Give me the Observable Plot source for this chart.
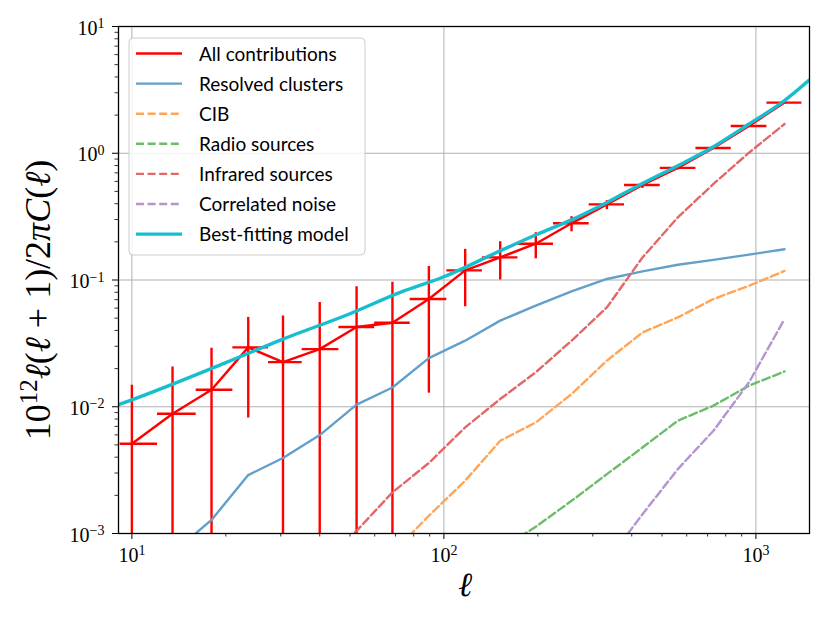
<!DOCTYPE html>
<html>
<head>
<meta charset="utf-8">
<script src="https://cdn.jsdelivr.net/npm/d3@7"></script>
<script src="https://cdn.jsdelivr.net/npm/@observablehq/plot@0.6"></script>
<style>
  html, body { margin: 0; padding: 0; background: #fff; }
  #chart { width: 830px; height: 623px; }
</style>
</head>
<body>
<div id="chart"></div>
<script>
// ---- data ----
const ell = [10, 13.5, 18, 23.6, 30.5, 40, 52.5, 68.4, 89.5, 117, 151.5, 197, 256.5, 333, 433, 562, 731, 950, 1235];
const binEdges = [9.17, 12.08, 16.07, 21.07, 27.4, 35.14, 46.08, 60.0, 77.98, 102.2, 132.9, 172.7, 224.5, 292.2, 379.2, 493.6, 642.3, 833.4, 1084.6, 1404];
const allContrib = [0.0051, 0.0088, 0.0136, 0.0294, 0.0225, 0.0285, 0.0426, 0.046, 0.0708, 0.119, 0.1507, 0.1934, 0.28, 0.395, 0.562, 0.766, 1.10, 1.64, 2.51];
const errUpper = [0.0148, 0.0206, 0.029, 0.0507, 0.052, 0.0665, 0.0886, 0.0958, 0.128, 0.1746, 0.2004, 0.236, 0.316, 0.423, 0.589, 0.79, 1.13, 1.68, 2.56];
// 1e-4 marks a lower bound that falls below the plotted range
const errLower = [1e-4, 1e-4, 1e-4, 0.00815, 1e-4, 1e-4, 1e-4, 1e-4, 0.0128, 0.0615, 0.100, 0.147, 0.24, 0.359, 0.528, 0.74, 1.07, 1.60, 2.46];

const resolvedClusters = [null, 0.0007, 0.00128, 0.00289, 0.00394, 0.00598, 0.01038, 0.01419, 0.0242, 0.0332, 0.0478, 0.0627, 0.0813, 0.1019, 0.117, 0.132, 0.144, 0.1585, 0.175];
const cib = [null, null, null, null, null, null, null, 0.0007, 0.00138, 0.00261, 0.00539, 0.00752, 0.0126, 0.0231, 0.0386, 0.0507, 0.0708, 0.090, 0.118];
const radioSources = [null, null, null, null, null, null, null, null, null, null, 0.00075, 0.00113, 0.00181, 0.00294, 0.00477, 0.00776, 0.0102, 0.01465, 0.019];
const infraredSources = [null, null, null, null, null, 0.00059, 0.00105, 0.00211, 0.0036, 0.00687, 0.0115, 0.0187, 0.0332, 0.0608, 0.1507, 0.312, 0.573, 1.01, 1.70];
const correlatedNoise = [null, null, null, null, null, null, null, null, null, null, null, null, null, 0.0006, 0.00142, 0.00322, 0.00646, 0.01556, 0.0492];

const modelEll = [9.06, 10, 20, 30.5, 50, 72.4, 100, 151.5, 200, 256.5, 333, 433, 562, 731, 950, 1235, 1485];
const modelVal = [0.0104, 0.01135, 0.0223, 0.0342, 0.0542, 0.0798, 0.106, 0.170, 0.2306, 0.298, 0.409, 0.578, 0.798, 1.127, 1.70, 2.60, 3.79];

const xMajor = [10, 100, 1000];
const yMajor = [0.001, 0.01, 0.1, 1, 10];

const legendLabels = ["All contributions", "Resolved clusters", "CIB", "Radio sources", "Infrared sources", "Correlated noise", "Best-fitting model"];

// ---- styles ----
const colors = {
  all: "#ff0000", clusters: "#62a0ca", cib: "#ffa556", radio: "#6bbc6b",
  ir: "#e26868", noise: "#b495d1", model: "#17becf"
};
const dash = "8,3.6";
const lw = 2.4;
const serif = "'Liberation Serif', 'DejaVu Serif', serif";

// ---- tables ----
const points = ell.map((l, i) => ({
  ell: l, lo: binEdges[i], hi: binEdges[i + 1],
  y: allContrib[i], yHi: errUpper[i], yLo: errLower[i]
}));
const series = (vals) => ell.map((l, i) => ({ell: l, v: vals[i]})).filter(d => d.v != null);
const model = modelEll.map((l, i) => ({ell: l, v: modelVal[i]}));

// minor ticks (2..9 in every decade)
const minorX = [], minorY = [];
for (let e = 0; e <= 3; e++) for (let m = 2; m <= 9; m++) {
  const v = m * 10 ** e; if (v > 9.06 && v < 1485) minorX.push(v);
}
for (let e = -3; e <= 0; e++) for (let m = 2; m <= 9; m++) minorY.push(m * 10 ** e);

const fmt = d => "10^" + Math.round(Math.log10(d));

const chart = Plot.plot({
  width: 830,
  height: 623,
  marginLeft: 118,
  marginRight: 21,
  marginTop: 26,
  marginBottom: 90,
  style: {background: "#fff", fontFamily: serif},
  x: {type: "log", domain: [9.06, 1485]},
  y: {type: "log", domain: [1e-3, 10]},
  marks: [
    Plot.gridX(xMajor, {stroke: "#b0b0b0", strokeOpacity: 1, strokeWidth: 1}),
    Plot.gridY(yMajor, {stroke: "#b0b0b0", strokeOpacity: 1, strokeWidth: 1}),
    // error bars and connecting line
    Plot.ruleX(points, {x: "ell", y1: "yLo", y2: "yHi", stroke: colors.all, strokeWidth: lw, clip: true}),
    Plot.ruleY(points, {y: "y", x1: "lo", x2: "hi", stroke: colors.all, strokeWidth: lw, clip: true}),
    Plot.line(points, {x: "ell", y: "y", stroke: colors.all, strokeWidth: lw, clip: true}),
    Plot.line(series(resolvedClusters), {x: "ell", y: "v", stroke: colors.clusters, strokeWidth: lw, clip: true}),
    Plot.line(series(cib), {x: "ell", y: "v", stroke: colors.cib, strokeWidth: lw, strokeDasharray: dash, clip: true}),
    Plot.line(series(radioSources), {x: "ell", y: "v", stroke: colors.radio, strokeWidth: lw, strokeDasharray: dash, clip: true}),
    Plot.line(series(infraredSources), {x: "ell", y: "v", stroke: colors.ir, strokeWidth: lw, strokeDasharray: dash, clip: true}),
    Plot.line(series(correlatedNoise), {x: "ell", y: "v", stroke: colors.noise, strokeWidth: lw, strokeDasharray: dash, clip: true}),
    Plot.line(model, {x: "ell", y: "v", stroke: colors.model, strokeWidth: 3.4, curve: "monotone-x", clip: true}),
    // axes
    Plot.axisX(minorX, {tickSize: 3.5, tickFormat: () => "", stroke: "#000", strokeWidth: 0.8, label: null}),
    Plot.axisX(xMajor, {tickSize: 6, tickPadding: 8, tickFormat: fmt, stroke: "#000", strokeWidth: 1, label: null}),
    Plot.axisY(minorY, {tickSize: 3.5, tickFormat: () => "", stroke: "#000", strokeWidth: 0.8, label: null}),
    Plot.axisY(yMajor, {tickSize: 6, tickPadding: 8, tickFormat: fmt, stroke: "#000", strokeWidth: 1, label: null}),
    Plot.frame({stroke: "#000", strokeWidth: 1.3})
  ]
});

document.getElementById("chart").appendChild(chart);

const svg = d3.select(chart);
// superscripts in tick labels
svg.selectAll("text").each(function () {
  const t = this.textContent;
  if (!/^10\^/.test(t)) return;
  const [b, e] = t.split("^");
  const sel = d3.select(this);
  sel.text("")
    .style("font-size", "20px")
    .style("font-family", serif)
    .style("fill", "#000");
  sel.append("tspan").text(b);
  sel.append("tspan").attr("dy", "-0.45em").style("font-size", "14px").text(e.replace("-", "\u2212"));
});
// centre the y tick labels on the digits
svg.selectAll('g[aria-label="y-axis tick label"] text').attr("y", "0.4em");

// axis labels
const yl = svg.append("text")
  .attr("transform", "translate(50,300) rotate(-90)")
  .attr("text-anchor", "middle")
  .style("font-family", serif)
  .style("font-size", "36px")
  .attr("fill", "#000");
yl.append("tspan").text("10");
yl.append("tspan").attr("dy", -13).style("font-size", "25px").text("12");
yl.append("tspan").attr("dy", 13).attr("font-style", "italic").text("ℓ");
yl.append("tspan").text("(");
yl.append("tspan").attr("font-style", "italic").text("ℓ");
yl.append("tspan").text(" + 1)/2");
yl.append("tspan").attr("font-style", "italic").text("πC");
yl.append("tspan").text("(");
yl.append("tspan").attr("font-style", "italic").text("ℓ");
yl.append("tspan").text(")");

svg.append("text")
  .attr("x", 465).attr("y", 596)
  .attr("text-anchor", "middle")
  .style("font-family", serif)
  .attr("font-style", "italic")
  .style("font-size", "34px")
  .attr("fill", "#000")
  .text("ℓ");

// legend
const lg = svg.append("g").attr("text-anchor", "start");
lg.append("rect")
  .attr("x", 129).attr("y", 38).attr("width", 236).attr("height", 217)
  .attr("rx", 4).attr("fill", "#fff").attr("fill-opacity", 0.85)
  .attr("stroke", "#cccccc").attr("stroke-width", 1);
const handles = [
  {c: colors.all, w: lw, d: null},
  {c: colors.clusters, w: lw, d: null},
  {c: colors.cib, w: lw, d: dash},
  {c: colors.radio, w: lw, d: dash},
  {c: colors.ir, w: lw, d: dash},
  {c: colors.noise, w: lw, d: dash},
  {c: colors.model, w: 3.4, d: null}
];
legendLabels.forEach((lab, i) => {
  const y = 53.5 + i * 30.1;
  const h = handles[i];
  const ln = lg.append("line")
    .attr("x1", 136).attr("x2", 182).attr("y1", y).attr("y2", y)
    .attr("stroke", h.c).attr("stroke-width", h.w);
  if (h.d) ln.attr("stroke-dasharray", h.d);
  lg.append("text")
    .attr("x", 199).attr("y", y + 7)
    .attr("text-anchor", "start")
    .style("font-family", "Lato, sans-serif")
    .style("font-size", "19px")
    .attr("fill", "#000")
    .text(lab);
});
</script>
</body>
</html>
